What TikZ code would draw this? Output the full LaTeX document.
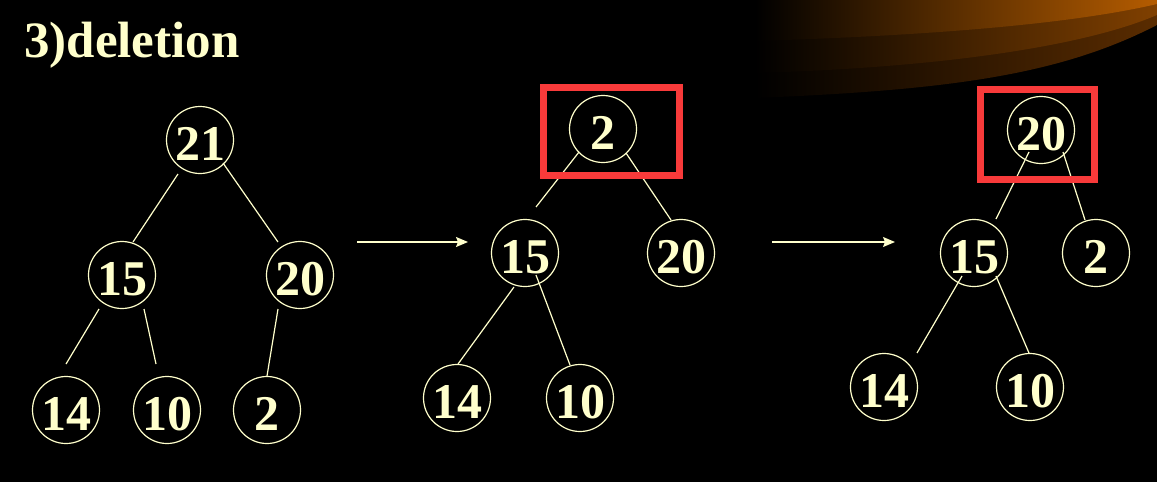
\documentclass[tikz,border=0pt]{standalone}
\usepackage{fontspec}
\setmainfont{Liberation Serif}
\usetikzlibrary{calc,arrows.meta}
\definecolor{cream}{HTML}{FFFFCC}
\definecolor{boxred}{HTML}{F83A3A}
\definecolor{orA}{HTML}{B55C00}
\definecolor{orB}{HTML}{804000}
\definecolor{orC}{HTML}{5A2C00}
\tikzset{
  hnode/.style={circle, draw=cream, line width=1.2pt, minimum size=67pt, inner sep=0pt,
    text=cream, font=\fontsize{50}{50}\selectfont\bfseries, text height=41pt, text depth=0pt},
  edge/.style={draw=cream, line width=1.2pt},
  movearrow/.style={draw=cream, line width=1.2pt, -{Stealth[length=12pt,width=10pt,inset=2pt]}},
  hlbox/.style={draw=boxred, line width=7pt},
}
\begin{document}
\begin{tikzpicture}[x=1pt,y=-1pt]
\fill[black] (0,0) rectangle (1157,482);
\useasboundingbox (0,0) rectangle (1157,482);
% swoosh
\shade[left color=black, right color=orC] (755,0) -- (755,98) .. controls (950,90) and (1060,75) .. (1157,25) -- (1157,0) -- cycle;
\shade[left color=black, right color=orB] (755,0) -- (755,73) .. controls (930,68) and (1080,48) .. (1157,15) -- (1157,0) -- cycle;
\shade[left color=black, right color=orA] (755,0) -- (755,41) .. controls (950,35) and (1080,22) .. (1157,4) -- (1157,0) -- cycle;
% title
\node[anchor=base west, text=cream, font=\fontsize{51}{51}\selectfont\bfseries, inner sep=0pt] (title) at (24,57) {3)deletion};
% tree 1
\node[hnode] (a21) at (200,140) {21};
\node[hnode] (a15) at (122,275) {15};
\node[hnode] (a20) at (300,275) {20};
\node[hnode] (a14) at (66,410) {14};
\node[hnode] (a10) at (167,410) {10};
\node[hnode] (a2) at (267,410) {2};
\draw[edge] ($(a21)+(-22,34)$) -- ($(a15)+(11,-33)$);
\draw[edge] ($(a21)+(23,23)$) -- ($(a20)+(-22,-33)$);
\draw[edge] ($(a15)+(-23,34)$) -- ($(a14)+(0,-46)$);
\draw[edge] ($(a15)+(22,34)$) -- ($(a10)+(-11,-46)$);
\draw[edge] ($(a20)+(-22,34)$) -- ($(a2)+(0,-34)$);
% arrows
\coordinate (p1s) at (357,242);
\coordinate (p1e) at (468,242);
\coordinate (p2s) at (772,242);
\coordinate (p2e) at (895,242);
\draw[movearrow] (p1s) -- (p1e);
\draw[movearrow] (p2s) -- (p2e);
% tree 2
\node[hnode] (b2) at (603,129) {2};
\node[hnode] (b15) at (525,253) {15};
\node[hnode] (b20) at (681,253) {20};
\node[hnode] (b14) at (457,398) {14};
\node[hnode] (b10) at (580,398) {10};
\draw[edge] ($(b2)+(-24,23)$) -- ($(b15)+(11,-46)$);
\draw[edge] ($(b2)+(23,24)$) -- ($(b20)+(-10,-33)$);
\draw[edge] ($(b15)+(-11,34)$) -- ($(b14)+(1,-34)$);
\draw[edge] ($(b15)+(11,22)$) -- ($(b10)+(-10,-33)$);
\draw[hlbox] (543.5,87.5) rectangle (679.5,175.5);
% tree 3
\node[hnode] (c20) at (1041,130) {20};
\node[hnode] (c15) at (974,253) {15};
\node[hnode] (c2) at (1096,253) {2};
\node[hnode] (c14) at (884,387) {14};
\node[hnode] (c10) at (1030,387) {10};
\draw[edge] ($(c20)+(-12,22)$) -- ($(c15)+(22,-34)$);
\draw[edge] ($(c20)+(22,22)$) -- ($(c2)+(-11,-33)$);
\draw[edge] ($(c15)+(-12,23)$) -- ($(c14)+(33,-34)$);
\draw[edge] ($(c15)+(22,23)$) -- ($(c10)+(-1,-34)$);
\draw[hlbox] (980.5,89.5) rectangle (1094.5,179.5);
\end{tikzpicture}
\end{document}
